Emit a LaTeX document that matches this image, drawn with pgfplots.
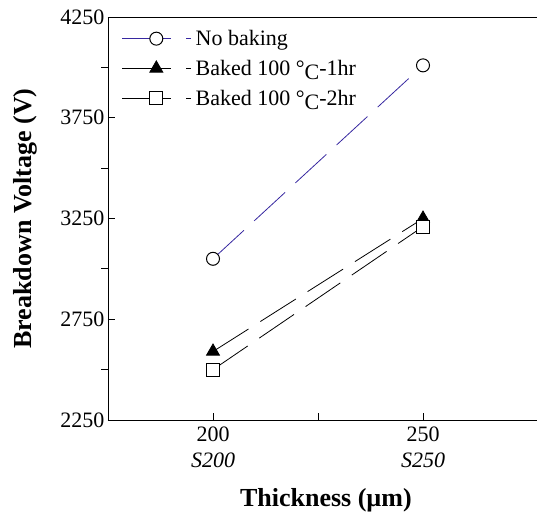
\documentclass[border=0pt]{standalone}
\usepackage{pgfplots}
\pgfplotsset{compat=1.18}
\usepackage{fontspec}
\setmainfont{Liberation Serif}
\definecolor{nbblue}{RGB}{55,40,160}
\newcommand{\fs}{\fontsize{22}{26}\selectfont}
\begin{document}
\begin{tikzpicture}
\useasboundingbox (-108pt,-92pt) rectangle (429pt,420pt);
\begin{axis}[
  scale only axis, width=429pt, height=403pt,
  xmin=175, xmax=277.14, ymin=2250, ymax=4250,
  axis x line*=box, axis y line*=left,
  xtick pos=bottom,
  /pgf/number format/assume math mode=true,
  xtick={200,250},
  xticklabels={{200\\\textit{S200}},{250\\\textit{S250}}},
  xticklabel style={align=center, font=\fs, yshift=-3pt},
  yticklabel style={/pgf/number format/1000 sep={}, font=\fs},
  extra x ticks={225}, extra x tick labels={},
  ytick={2250,2750,3250,3750,4250},
  extra y ticks={2500,3000,3500,4000}, extra y tick labels={},
  tick align=inside,
  extra y tick style={ytick align=outside},
  major tick length=7pt,
  tick style={black, line width=0.8pt},
  axis line style={black, line width=0.9pt},
  every axis y label/.style={at={(axis description cs:-0.1935,0.5)}, rotate=90, anchor=center, font=\fontsize{26}{30}\selectfont\bfseries},
  every axis x label/.style={at={(axis description cs:0.508,-0.1985)}, anchor=center, font=\fontsize{26}{30}\selectfont\bfseries},
  xlabel={Thickness (µm)},
  ylabel={Breakdown Voltage (V)},
  legend cell align=left,
  legend style={at={(0.025,0.975)}, anchor=north west, draw=none, fill=none, row sep=11pt, font=\fs, nodes={inner xsep=4pt, inner ysep=1pt}},
  legend image code/.code={
    \draw[#1, solid, mark repeat=2, mark phase=2] plot coordinates {(0pt,0pt) (34pt,0pt) (49pt,0pt)};
    \draw[#1, solid, mark=none] (64pt,0pt) -- (69pt,0pt);
  },
]
\addplot[nbblue, line width=0.8pt, dash pattern=on 42pt off 14pt, mark=*, mark size=6.5pt, mark options={solid, draw=black, fill=white, line width=1pt}]
  coordinates {(200,3050) (250,4010)};
\addlegendentry{No baking}
\addplot[black, line width=0.8pt, dash pattern=on 42pt off 14pt, mark=triangle*, mark size=7.5pt, mark options={solid, draw=black, fill=black}]
  coordinates {(200,2590) (250,3250)};
\addlegendentry{Baked 100 °\raisebox{-0.4ex}{C}-1hr}
\addplot[black, line width=0.8pt, dash pattern=on 42pt off 14pt, mark=square*, mark size=6.5pt, mark options={solid, draw=black, fill=white, line width=1pt}]
  coordinates {(200,2500) (250,3210)};
\addlegendentry{Baked 100 °\raisebox{-0.4ex}{C}-2hr}
\end{axis}
\end{tikzpicture}
\end{document}
